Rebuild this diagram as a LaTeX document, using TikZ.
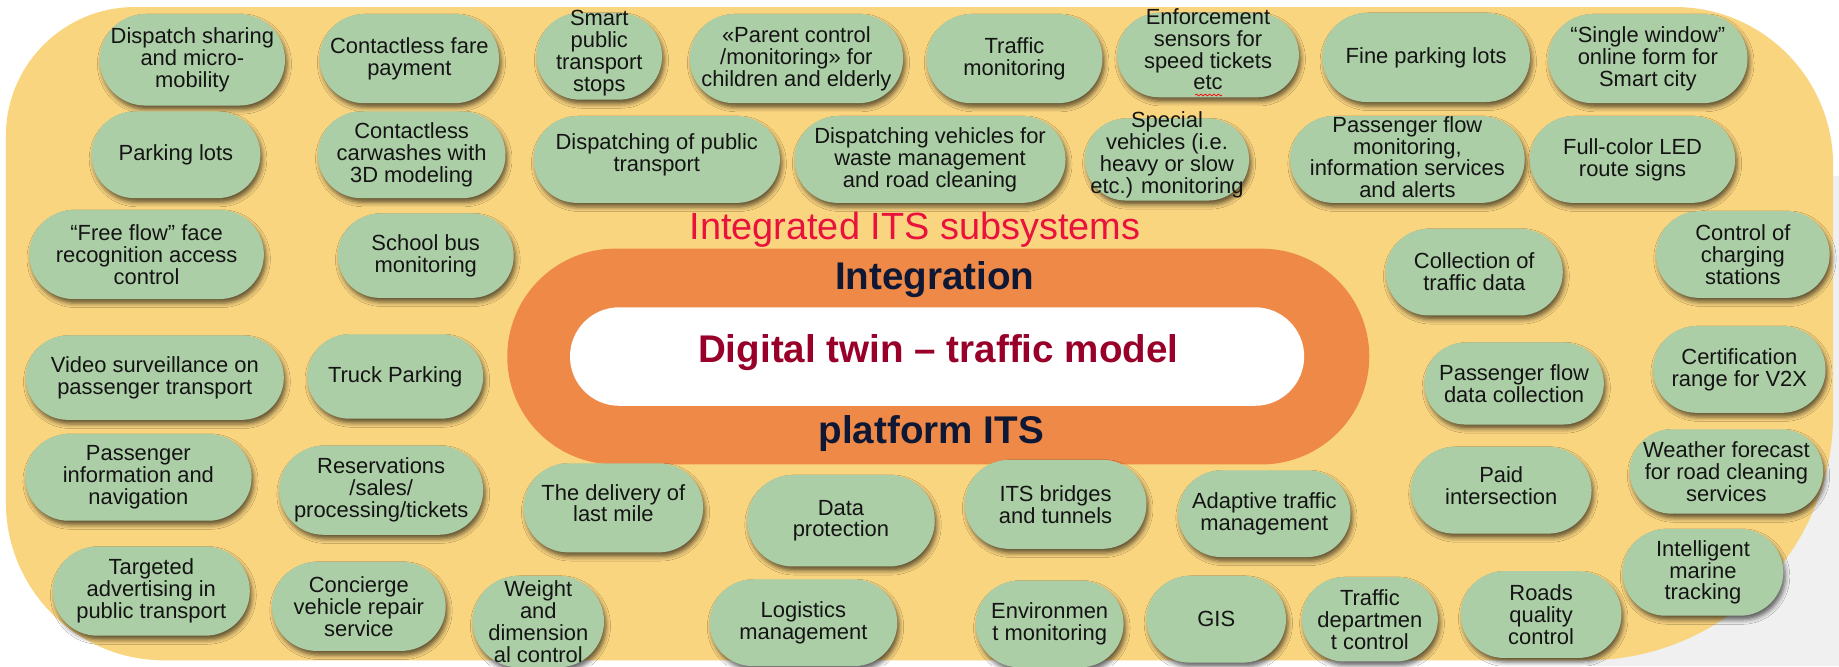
\documentclass[tikz,border=0pt]{standalone}
\usepackage{fontspec}
\setmainfont{Liberation Sans}
\usetikzlibrary{shadows.blur,decorations.pathmorphing}
\newdimen\pxu \pxu=0.0235cm
\definecolor{panel}{RGB}{250,213,128}
\definecolor{ring}{RGB}{239,137,71}
\definecolor{pillgreen}{RGB}{172,206,166}
\definecolor{titlered}{RGB}{232,18,60}
\definecolor{navy}{RGB}{14,24,52}
\definecolor{twinred}{RGB}{152,0,42}
\definecolor{margin}{RGB}{240,240,240}
\tikzset{
  pillshape/.style={fill=pillgreen, inner sep=0pt,
    blur shadow={shadow xshift=1.2pt, shadow yshift=-2.4pt, shadow blur radius=2.5pt, shadow opacity=60}},
  pilltext/.style={inner sep=0pt, align=center, text=black!92, font=\fontsize{12.5}{12.5}\selectfont},
  bigbold/.style={inner sep=0pt, font=\fontsize{22}{24}\selectfont\bfseries},
}
% \pill[text dy]{name}{x}{y}{width}{height}{text}
\newcommand\pill[7][0]{%
  \node[pillshape, rounded corners=#6*0.5*\pxu, minimum width=#5*\pxu, minimum height=#6*\pxu] (#2) at (#3,#4) {};
  \node[pilltext] (#2-text) at (#3,#4+#1) {#7};}
\begin{document}
\begin{tikzpicture}[x=\pxu, y=-\pxu]
\fill[white] (0,0) rectangle (1568,568);
\useasboundingbox (0,0) rectangle (1568,568);
% light grey page margin on the lower right
\fill[margin] (1430,150) rectangle (1568,568);
\fill[margin] (1353,480) rectangle (1568,568);

% outer panel
\fill[panel]
  (115,6) -- (1428,6) arc[start angle=270, end angle=360, radius=135]
  -- (1563,353) arc[start angle=0, end angle=90, radius=210]
  -- (140,563) arc[start angle=90, end angle=180, radius=135]
  -- (5,116) arc[start angle=180, end angle=270, radius=110] -- cycle;

% platform core
\node[fill=ring, rounded corners=92*\pxu, minimum width=735*\pxu, minimum height=184*\pxu, inner sep=0pt] (ring) at (800,304) {};
\node[fill=white, rounded corners=42*\pxu, minimum width=626*\pxu, minimum height=84*\pxu, inner sep=0pt] (core) at (799,304) {};
\node[inner sep=0pt, font=\fontsize{21.6}{24}\selectfont, text=titlered] (title) at (780,196) {Integrated ITS subsystems};
\node[bigbold, text=navy] (integ) at (797,238) {Integration};
\node[bigbold, text=twinred] (twin) at (800,301) {Digital twin – traffic model};
\node[bigbold, text=navy] (platf) at (794,370) {platform ITS};

% row 1
\pill{p1}{164}{51}{158}{78}{Dispatch sharing\\and micro-\\mobility}
\pill{p2}{349}{50}{153}{76}{Contactless fare\\payment}
\pill[-3]{p3}{511}{48}{107}{74}{Smart\\public\\transport\\stops}
\pill{p4}{679}{50}{182}{76}{«Parent control\\/monitoring» for\\children and elderly}
\pill{p5}{865}{50}{150}{76}{Traffic\\monitoring}
\pill[-5]{p6}{1030}{47}{155}{72}{Enforcement\\sensors for\\speed tickets\\etc}
\pill{p7}{1216}{49}{177}{76}{Fine parking lots}
\pill{p8}{1405}{50}{170}{76}{“Single window”\\online form for\\Smart city}
\draw[red, decorate, decoration={snake, amplitude=0.5pt, segment length=2.5pt}] (1019,81) -- (1042,81);

% row 2
\pill{p9}{150}{132}{144}{74}{Parking lots}
\pill{p10}{351}{132}{160}{74}{Contactless\\carwashes with\\3D modeling}
\pill[-4]{p11}{560}{136}{210}{74}{Dispatching of public\\transport}
\pill{p12}{793}{136}{231}{74}{Dispatching vehicles for\\waste management\\and road cleaning}
\pill[-4]{p13}{995}{136}{140}{70}{Special\\vehicles (i.e.\\heavy or slow\\etc.) monitoring}
\pill[-2]{p14}{1200}{136}{200}{74}{Passenger flow\\monitoring,\\information services\\and alerts}
\pill{p15}{1392}{136}{175}{74}{Full-color LED\\route signs}

% left block
\pill{p16}{125}{217}{200}{76}{“Free flow” face\\recognition access\\control}
\pill{p17}{363}{218}{150}{72}{School bus\\monitoring}
\pill{p18}{132}{322}{220}{72}{Video surveillance on\\passenger transport}
\pill{p19}{337}{321}{150}{72}{Truck Parking}
\pill{p20}{118}{407}{193}{74}{Passenger\\information and\\navigation}
\pill{p21}{325}{418}{174}{76}{Reservations\\/sales/\\processing/tickets}
\pill{p22}{129}{504}{168}{76}{Targeted\\advertising in\\public transport}
\pill{p23}{306}{517}{148}{76}{Concierge\\vehicle repair\\service}
\pill{p24}{459}{530}{112}{78}{Weight\\and\\dimension\\al control}

% bottom block
\pill[-4]{p25}{523}{433}{153}{76}{The delivery of\\last mile}
\pill{p26}{717}{444}{160}{78}{Data\\protection}
\pill{p27}{685}{531}{160}{74}{Logistics\\management}
\pill{p28}{900}{430}{155}{76}{ITS bridges\\and tunnels}
\pill{p29}{1078}{438}{147}{74}{Adaptive traffic\\management}
\pill{p30}{895}{532}{126}{74}{Environmen\\t monitoring}
\pill{p31}{1037}{528}{119}{74}{GIS}
\pill{p32}{1168}{528}{116}{72}{Traffic\\departmen\\t control}
\pill{p33}{1314}{524}{137}{74}{Roads\\quality\\control}

% right block
\pill{p34}{1257}{232}{151}{74}{Collection of\\traffic data}
\pill{p35}{1486}{217}{148}{74}{Control of\\charging\\stations}
\pill{p36}{1291}{327}{153}{70}{Passenger flow\\data collection}
\pill{p37}{1483}{315}{147}{74}{Certification\\range for V2X}
\pill[-4]{p38}{1280}{418}{154}{74}{Paid\\intersection}
\pill{p39}{1472}{402}{165}{72}{Weather forecast\\for road cleaning\\services}
\pill{p40}{1452}{488}{137}{74}{Intelligent\\marine\\tracking}
\end{tikzpicture}
\end{document}
